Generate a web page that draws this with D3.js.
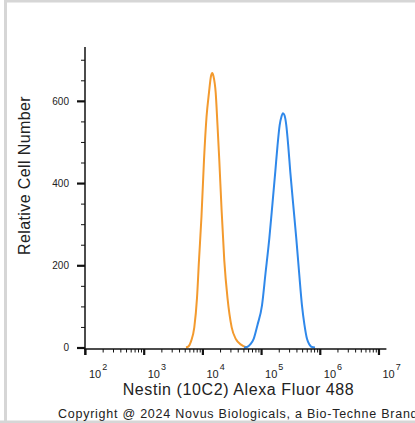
<!DOCTYPE html>
<html>
<head>
<meta charset="utf-8">
<script src="https://cdn.jsdelivr.net/npm/d3@7"></script>
<style>
  html, body { margin: 0; padding: 0; background: #fff; }
  svg { display: block; font-family: "Liberation Sans", Arial, sans-serif; }
</style>
</head>
<body>
<svg id="chart" width="415" height="423"></svg>
<script>
// ---- data ----
const isotypeIntensity = [5250, 5750, 6400, 7280, 8090, 8750, 9660, 10650, 11750, 12950, 14000, 14750, 15450, 16850, 18100, 19400, 21150, 23600, 26800, 31550, 37350, 45450, 56900];
const isotypeCount     = [0, 2, 15, 49, 120, 212, 320, 456, 560, 620, 660, 668, 660, 620, 540, 456, 340, 212, 120, 49, 20, 7, 0];

const nestinIntensity = [51170, 57540, 65950, 74780, 86850, 103500, 118850, 138000, 156300, 174600, 190200, 207300, 222800, 236000, 250500, 268600, 290400, 314100, 354000, 398100, 445700, 497700, 548300, 605300, 668300, 736200, 827900];
const nestinCount     = [0, 1, 8, 21, 55, 102, 180, 265, 350, 428, 490, 541, 562, 570, 565, 541, 490, 428, 345, 265, 180, 102, 55, 21, 7, 1, 0];

const yMajorTicks = [0, 200, 400, 600];
const yMinorTicks = [50, 100, 150, 250, 300, 350, 450, 500, 550, 650, 700];
const xDecadeExponents = [2, 3, 4, 5, 6, 7];

const xTitle = "Nestin (10C2) Alexa Fluor 488";
const yTitle = "Relative Cell Number";
const copyright = "Copyright @ 2024 Novus Biologicals, a Bio-Techne Brand";

// ---- layout ----
const svg = d3.select("#chart");
const X0 = 85, X1 = 386.4, Y0 = 347.5, YTOP = 47, AXIS_Y = 349;

const x = d3.scaleLog().domain([1e2, Math.pow(10, 7.135)]).range([X0, X1]);
const y = d3.scaleLinear().domain([0, 731]).range([Y0, YTOP]);

// frame
svg.append("rect").attr("x", 4).attr("y", 0).attr("width", 411).attr("height", 2.5).attr("fill", "#d6d6d6");
svg.append("rect").attr("x", 4).attr("y", 0).attr("width", 3).attr("height", 423).attr("fill", "#d6d6d6");
svg.append("rect").attr("x", 0).attr("y", 420.5).attr("width", 415).attr("height", 2.5).attr("fill", "#d6d6d6");

// curves
const line = d3.line().x(d => x(d[0])).y(d => y(d[1])).curve(d3.curveMonotoneX);
svg.append("path")
  .datum(isotypeIntensity.map((v, i) => [v, isotypeCount[i]]))
  .attr("d", line).attr("fill", "none").attr("stroke", "#f39a2e").attr("stroke-width", 2);
svg.append("path")
  .datum(nestinIntensity.map((v, i) => [v, nestinCount[i]]))
  .attr("d", line).attr("fill", "none").attr("stroke", "#2f88ea").attr("stroke-width", 2);

// x axis
const xMinor = [];
for (let e = 2; e <= 7; e++) for (let m = 2; m <= 9; m++) {
  const v = m * Math.pow(10, e);
  if (v <= x.domain()[1]) xMinor.push(v);
}
const xMajor = xDecadeExponents.map(e => Math.pow(10, e));

const gxMinor = svg.append("g").attr("transform", `translate(0,${AXIS_Y})`)
  .call(d3.axisBottom(x).tickValues(xMinor).tickSize(3.5).tickFormat(""));
gxMinor.select(".domain").remove();
gxMinor.selectAll("line").attr("stroke", "#111").attr("stroke-width", 1);

const gxMajor = svg.append("g").attr("transform", `translate(0,${AXIS_Y})`)
  .call(d3.axisBottom(x).tickValues(xMajor).tickSize(6).tickFormat(""));
gxMajor.select(".domain").remove();
gxMajor.selectAll("line").attr("stroke", "#111").attr("stroke-width", 2.2);

svg.append("line").attr("x1", X0 - 1).attr("x2", X1).attr("y1", AXIS_Y).attr("y2", AXIS_Y)
  .attr("stroke", "#111").attr("stroke-width", 1.5);

const xl = svg.append("g");
xDecadeExponents.forEach(e => {
  const t = xl.append("text").attr("x", x(Math.pow(10, e)) + 4).attr("y", 378)
    .attr("font-size", 11).attr("fill", "#222");
  t.append("tspan").text("10");
  t.append("tspan").attr("font-size", 9).attr("dy", -8).attr("dx", 1).text(String(e));
});

// y axis
const gyMinor = svg.append("g").attr("transform", `translate(${X0},0)`)
  .call(d3.axisLeft(y).tickValues(yMinorTicks).tickSize(4).tickFormat(""));
gyMinor.select(".domain").remove();
gyMinor.selectAll("line").attr("stroke", "#111").attr("stroke-width", 1);

const gyMajor = svg.append("g").attr("transform", `translate(${X0},0)`)
  .call(d3.axisLeft(y).tickValues(yMajorTicks).tickSize(8).tickPadding(8).tickFormat(d3.format("d")));
gyMajor.select(".domain").remove();
gyMajor.selectAll("line").attr("stroke", "#111").attr("stroke-width", 2.2);
gyMajor.selectAll("text").attr("font-size", 10).attr("fill", "#222")
  .attr("font-family", "'Liberation Sans', Arial, sans-serif");

svg.append("line").attr("x1", X0).attr("x2", X0).attr("y1", YTOP).attr("y2", AXIS_Y + 6)
  .attr("stroke", "#111").attr("stroke-width", 1.5);

// titles
svg.append("text").attr("x", 238.5).attr("y", 395).attr("text-anchor", "middle")
  .attr("font-size", 16).attr("letter-spacing", 0.6).attr("fill", "#222").text(xTitle);

svg.append("text").attr("transform", "translate(30,175.5) rotate(-90)").attr("text-anchor", "middle")
  .attr("font-size", 16).attr("letter-spacing", 0.4).attr("fill", "#222").text(yTitle);

svg.append("text").attr("x", 58).attr("y", 418).attr("font-size", 12.5).attr("letter-spacing", 0.75)
  .attr("fill", "#222").text(copyright);
</script>
</body>
</html>
